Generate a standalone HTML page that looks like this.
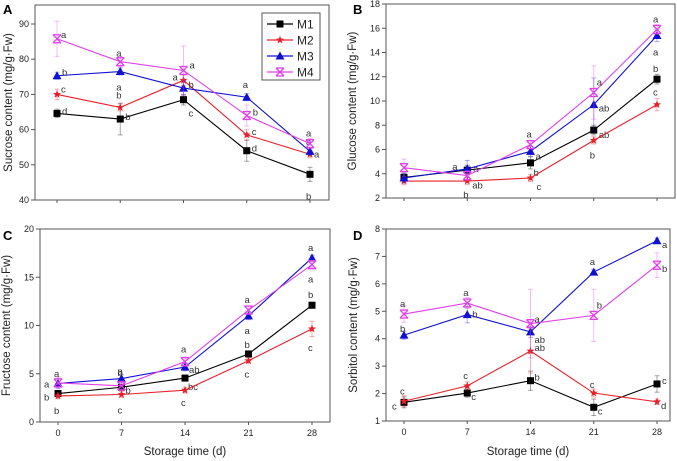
<!DOCTYPE html>
<html><head><meta charset="utf-8">
<style>
html,body{margin:0;padding:0;background:#fff;}
svg{display:block;font-family:"Liberation Sans",Arial,sans-serif;}
</style></head>
<body>
<svg id="chart" width="677" height="461" viewBox="0 0 677 461" xmlns="http://www.w3.org/2000/svg"></svg>
<script>
const days = [0, 7, 14, 21, 28];
const seriesNames = ["M1", "M2", "M3", "M4"];
const colors = ["#000000", "#e8202a", "#1010d0", "#e040e8"];
// Panel A sucrose
const aM1 = [64.6, 63, 68.5, 54, 47.3];
const aM2 = [70, 66.3, 74, 58.5, 53];
const aM3 = [75.3, 76.5, 71.8, 69.2, 53.8];
const aM4 = [85.8, 79.3, 76.8, 64, 56];
const aErr = [[1.2,4.5,1.5,3,2],[1.5,1,1.5,1.5,1],[1,1,2,1,1],[5,1.5,7,3,1.5]];
const aLet = [["d","b","c","d","b"],["c","b","a","c","a"],["b","a","b","a","a"],["a","a","a","b","a"]];
const aTicks = [40, 50, 60, 70, 80, 90];
// Panel B glucose
const bM1 = [3.7, 4.3, 4.9, 7.6, 11.8];
const bM2 = [3.4, 3.4, 3.65, 6.75, 9.7];
const bM3 = [3.65, 4.4, 5.85, 9.7, 15.4];
const bM4 = [4.5, 3.85, 6.4, 10.7, 15.9];
const bErr = [[0.3,0.4,0.5,0.4,0.4],[0.3,0.3,0.3,0.3,0.5],[0.4,0.7,0.4,2.2,0.5],[0.7,0.4,0.3,2.2,0.4]];
const bLet = [["","a","b","ab","b"],["","b","c","b","c"],["","a","a","ab","a"],["","ab","a","a","a"]];
const bTicks = [2, 4, 6, 8, 10, 12, 14, 16, 18];
// Panel C fructose
const cM1 = [2.95, 3.6, 4.55, 7.05, 12.1];
const cM2 = [2.7, 2.85, 3.3, 6.35, 9.65];
const cM3 = [4.0, 4.5, 5.7, 11, 17];
const cM4 = [4.05, 3.75, 6.25, 11.6, 16.3];
const cErr = [[0.3,0.3,0.3,0.3,0.3],[0.3,0.3,0.3,0.3,0.8],[0.5,0.4,0.4,0.4,0.3],[0.6,0.5,0.5,0.4,0.3]];
const cLet = [["b","b","bc","b","b"],["b","c","c","c","c"],["a","a","ab","a","a"],["a","b","a","a","a"]];
const cTicks = [0, 5, 10, 15, 20];
// Panel D sorbitol
const dM1 = [1.68, 2.02, 2.47, 1.5, 2.35];
const dM2 = [1.72, 2.28, 3.55, 2.02, 1.7];
const dM3 = [4.13, 4.88, 4.25, 6.43, 7.57];
const dM4 = [4.9, 5.3, 4.55, 4.85, 6.68];
const dErr = [[0.2,0.15,0.35,0.3,0.3],[0.2,0.15,0.8,0.15,0.1],[0.15,0.3,0.2,0.1,0.1],[0.3,0.2,1.25,0.95,0.45]];
const dLet = [["c","c","b","c","c"],["c","c","ab","c","d"],["b","b","ab","a","a"],["a","a","a","b","b"]];
const dTicks = [1, 2, 3, 4, 5, 6, 7, 8];

const NS = "http://www.w3.org/2000/svg";
const svg = document.getElementById("chart");
function mk(tag, attrs, parent) {
  const e = document.createElementNS(NS, tag);
  for (const k in attrs) e.setAttribute(k, attrs[k]);
  (parent || svg).appendChild(e);
  return e;
}

// letter offset (dx,dy) per series per point index
const letterOff = {
  A: [[[5,-2],[5,-2],[5,14],[5,-2],[-4,22]],[[4,-5],[-4,-12],[-11,-3],[5,-3],[-4,-12]],[[5,-3],[-4,16],[5,-3],[-4,-12],[4,3]],[[4,-4],[-4,-8],[6,-5],[6,-3],[-4,-10]]],
  B: [[[0,0],[6,-1],[3,10],[5,5],[-4,-10]],[[0,0],[-4,14],[6,9],[-4,15],[-4,-12]],[[0,0],[-15,-2],[5,5],[5,4],[-4,17]],[[0,0],[5,10],[-4,-10],[3,-10],[-4,-10]]],
  C: [[[-14,4],[4,3],[3,9],[-4,-9],[-4,-10]],[[-4,15],[-4,16],[-4,13],[-4,14],[-4,19]],[[-14,1],[-4,-7],[4,3],[-4,15],[-4,-10]],[[-4,-9],[-4,-13],[-4,-12],[-4,-10],[-4,15]]],
  D: [[[-12,4],[4,4],[4,-3],[4,4],[5,-3]],[[-4,-10],[-4,-10],[4,-3],[-4,-8],[4,4]],[[-4,-6],[5,0],[4,8],[-4,-10],[5,4]],[[-4,-10],[-4,-10],[4,-4],[3,-10],[5,4]]]
};

function panel(p) {
  const g = mk("g", {});
  
  
  const xs = d => p.x0 + (d - days[0]) / (days[days.length-1] - days[0]) * (p.x28 - p.x0);
  const ys = v => p.yb + (v - p.ymin) / (p.ymax - p.ymin) * (p.yt - p.yb);
  const box = mk("rect", {x:p.l, y:p.yt, width:p.r-p.l, height:p.yb-p.yt, fill:"none", stroke:"#555", "stroke-width":1}, g);
  
  
  p.ticks.forEach(t => {
    const y = ys(t);
    mk("line", {x1:p.l-4, x2:p.l, y1:y, y2:y, stroke:"#555"}, g);
    const tx = mk("text", {x:p.l-6, y:y+3, "font-size":9, "text-anchor":"end", fill:"#222"}, g);
    tx.textContent = t;
    
    
  });
  days.forEach(d => {
    const x = xs(d);
    mk("line", {x1:x, x2:x, y1:p.yb, y2:p.yb+3, stroke:"#555"}, g);
    if (p.xlab) {
      const tx = mk("text", {x:x, y:p.yb+14, "font-size":9, "text-anchor":"middle", fill:"#222"}, g);
      tx.textContent = d;
      
      
    }
  });
  if (p.xlab) {
    const xt = mk("text", {x:(p.l+p.r)/2, y:455, "font-size":11.5, "text-anchor":"middle", fill:"#222"}, g);
    xt.textContent = "Storage time (d)";
    
    
  }
  const cy = (p.yt + p.yb) / 2;
  const yt = mk("text", {x:p.ytx, y:cy, "font-size":11.5, "text-anchor":"middle", fill:"#222", transform:`rotate(-90 ${p.ytx} ${cy})`}, g);
  yt.textContent = p.ytitle;
  
  
  const pl = mk("text", {x:p.lx, y:p.ly, "font-size":13, "font-weight":"bold", fill:"#000"}, g);
  pl.textContent = p.id;
  
  

  p.series.forEach((vals, si) => {
    const c = colors[si];
    const sg = mk("g", {}, g);
    
    
    vals.forEach((v, i) => {
      const x = xs(days[i]), e = p.err[si][i];
      mk("line", {x1:x, x2:x, y1:ys(v-e), y2:ys(v+e), stroke:c, "stroke-opacity":0.35, "stroke-width":1}, sg);
      mk("line", {x1:x-2.5, x2:x+2.5, y1:ys(v+e), y2:ys(v+e), stroke:c, "stroke-opacity":0.35}, sg);
      mk("line", {x1:x-2.5, x2:x+2.5, y1:ys(v-e), y2:ys(v-e), stroke:c, "stroke-opacity":0.35}, sg);
    });
    const line = mk("polyline", {points: vals.map((v,i)=>xs(days[i])+","+ys(v)).join(" "), fill:"none", stroke:c, "stroke-width":1.1}, sg);
    
    
    vals.forEach((v, i) => {
      const m = marker(sg, si, xs(days[i]), ys(v));
      
      
      const L = p.lets[si][i];
      if (L) {
        const o = letterOff[p.id][si][i];
        const t = mk("text", {x:xs(days[i])+o[0], y:ys(v)+o[1]+3, "font-size":9.5, fill:"#333"}, sg);
        t.textContent = L;
        
        
      }
    });
  });
}

function marker(parent, si, x, y) {
  const c = colors[si];
  if (si === 0) return mk("rect", {x:x-3.5, y:y-3.5, width:7, height:7, fill:c}, parent);
  if (si === 1) {
    let pts = [];
    for (let k=0;k<10;k++){const r=k%2?1.8:4.2;const a=-Math.PI/2+k*Math.PI/5;pts.push((x+r*Math.cos(a)).toFixed(1)+","+(y+r*Math.sin(a)).toFixed(1));}
    return mk("polygon", {points:pts.join(" "), fill:c}, parent);
  }
  if (si === 2) return mk("polygon", {points:`${x},${y-4.5} ${x+4.5},${y+3.5} ${x-4.5},${y+3.5}`, fill:c}, parent);
  const g = mk("g", {stroke:c, "stroke-width":1.3, fill:"none"}, parent);
  mk("line", {x1:x-4, y1:y-4, x2:x+4, y2:y+4}, g);
  mk("line", {x1:x-4, y1:y+4, x2:x+4, y2:y-4}, g);
  mk("line", {x1:x-4, y1:y-4, x2:x+4, y2:y-4}, g);
  mk("line", {x1:x-4, y1:y+4, x2:x+4, y2:y+4}, g);
  return g;
}

panel({id:"A", l:35, r:329, yt:5, yb:200, ymin:40, ymax:95.4, x0:57, x28:310, ticks:aTicks,
  series:[aM1,aM2,aM3,aM4], err:aErr, lets:aLet, ytitle:"Sucrose content (mg/g·Fw)", ytx:12, lx:3, ly:14, xlab:false});
panel({id:"B", l:386, r:675, yt:4, yb:198, ymin:2, ymax:18, x0:404, x28:657, ticks:bTicks,
  series:[bM1,bM2,bM3,bM4], err:bErr, lets:bLet, ytitle:"Glucose content (mg/g·Fw)", ytx:356, lx:353, ly:14, xlab:false});
panel({id:"C", l:40, r:330, yt:229, yb:422, ymin:0, ymax:20, x0:58, x28:312, ticks:cTicks,
  series:[cM1,cM2,cM3,cM4], err:cErr, lets:cLet, ytitle:"Fructose content (mg/g·Fw)", ytx:10, lx:3, ly:240, xlab:true});
panel({id:"D", l:386, r:670, yt:229, yb:421, ymin:1, ymax:8, x0:404, x28:657, ticks:dTicks,
  series:[dM1,dM2,dM3,dM4], err:dErr, lets:dLet, ytitle:"Sorbitol content (mg/g·Fw)", ytx:357, lx:353, ly:240, xlab:true});

// legend
const lg = mk("g", {});


mk("rect", {x:262, y:13, width:58, height:67, fill:"#fff", stroke:"#555"}, lg);
seriesNames.forEach((n, i) => {
  const y = 24 + i * 16;
  const e = mk("g", {}, lg);
  
  
  mk("line", {x1:267, x2:293, y1:y, y2:y, stroke:colors[i], "stroke-width":1.2}, e);
  marker(e, i, 280, y);
  const t = mk("text", {x:297, y:y+4.5, "font-size":12, fill:"#222"}, e);
  t.textContent = n;
});
</script>
</body></html>
